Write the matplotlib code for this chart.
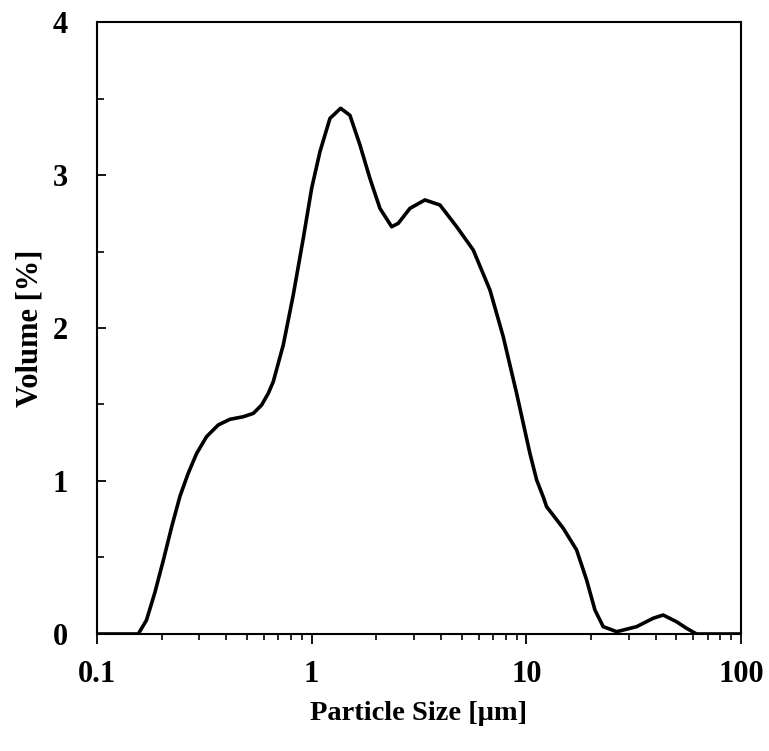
import matplotlib
matplotlib.use("Agg")
import matplotlib.pyplot as plt
from matplotlib.ticker import FixedLocator, LogLocator, NullFormatter, FixedFormatter

# Particle size distribution
size_um = [0.1, 0.1557, 0.170, 0.186, 0.2036, 0.2228, 0.2435, 0.266, 0.2912, 0.324,
           0.367, 0.416, 0.480, 0.535, 0.585, 0.628, 0.6625, 0.7375, 0.821, 0.914,
           1.0, 1.093, 1.217, 1.365, 1.508, 1.679, 1.868, 2.080, 2.359, 2.532,
           2.870, 3.371, 3.960, 4.736, 5.658, 6.770, 7.806, 9.01, 10.39, 11.17,
           11.98, 12.43, 14.86, 17.15, 19.09, 20.87, 22.81, 26.35, 32.65, 39.0,
           43.4, 50.1, 55.8, 62.1, 100]
volume_pct = [0.0, 0.0, 0.09, 0.27, 0.48, 0.70, 0.90, 1.05, 1.18, 1.29,
              1.366, 1.403, 1.42, 1.442, 1.497, 1.573, 1.649, 1.889, 2.216, 2.586,
              2.913, 3.152, 3.37, 3.436, 3.39, 3.196, 2.978, 2.782, 2.662, 2.684,
              2.782, 2.837, 2.804, 2.662, 2.51, 2.248, 1.943, 1.573, 1.181, 1.007,
              0.897, 0.832, 0.691, 0.549, 0.353, 0.157, 0.048, 0.015, 0.048, 0.103,
              0.124, 0.08, 0.037, 0.0, 0.0]

x_ticks = [0.1, 1, 10, 100]
x_tick_labels = ["0.1", "1", "10", "100"]
y_ticks = [0, 1, 2, 3, 4]

plt.rcParams['font.family'] = ['Liberation Serif', 'DejaVu Serif']
plt.rcParams['font.weight'] = 'bold'

fig = plt.figure(figsize=(7.69, 7.51), dpi=100)
ax = fig.add_axes([0.1261, 0.1558, 0.8375, 0.8149])

ax.plot(size_um, volume_pct, color='black', linewidth=2.6,
        solid_joinstyle='round', solid_capstyle='round')

ax.set_xscale('log')
ax.set_xlim(0.1, 100)
ax.set_ylim(0, 4)

ax.xaxis.set_major_locator(FixedLocator(x_ticks))
ax.xaxis.set_major_formatter(FixedFormatter(x_tick_labels))
ax.xaxis.set_minor_locator(LogLocator(base=10, subs=range(2, 10)))
ax.xaxis.set_minor_formatter(NullFormatter())
ax.set_yticks(y_ticks)
ax.set_yticks([0.5, 1.5, 2.5, 3.5], minor=True)

for s in ax.spines.values():
    s.set_linewidth(1.5)

ax.tick_params(axis='x', which='major', direction='out', length=7.5, width=1.3,
               labelsize=22, pad=11)
ax.tick_params(axis='x', which='minor', direction='out', length=4.5, width=1.2)
ax.tick_params(axis='y', which='major', direction='in', length=6.5, width=1.3,
               labelsize=22, pad=21)
ax.tick_params(axis='y', which='minor', direction='in', length=5, width=1.2)

ax.set_xlabel('Particle Size [μm]', fontsize=20.5, fontweight='bold', labelpad=9)
ax.set_ylabel('Volume [%]', fontsize=22, fontweight='bold', labelpad=6)

fig.savefig('out.png', dpi=100)
